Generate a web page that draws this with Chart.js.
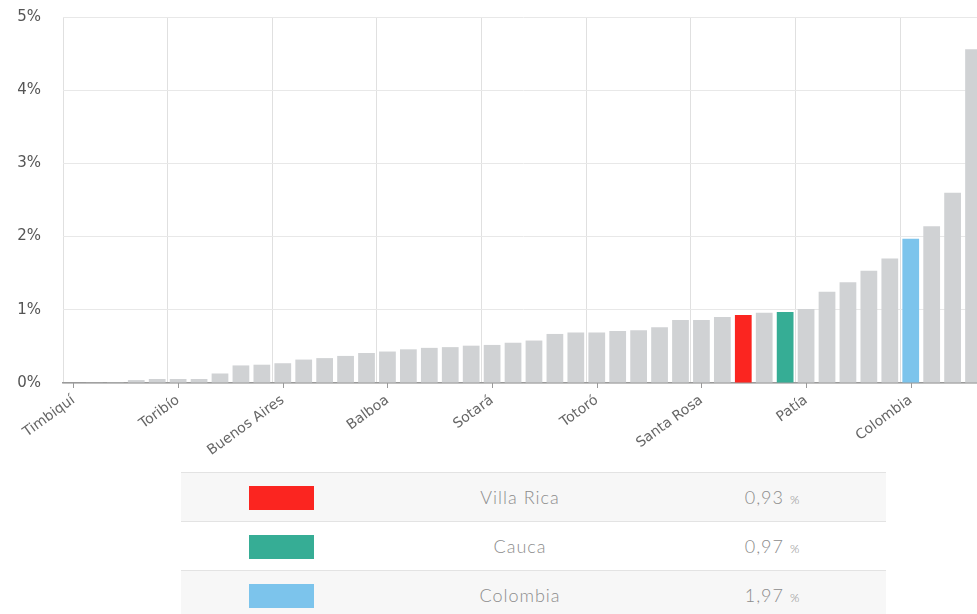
<!DOCTYPE html>
<html>
<head>
<meta charset="utf-8">
<script src="https://cdn.jsdelivr.net/npm/chart.js@4"></script>
<style>
  html, body { margin: 0; padding: 0; overflow: hidden; background: #fff; }
  #chart { position: absolute; left: 0; top: 0; }
  #legendTable {
    position: absolute; left: 181px; top: 472px; width: 705px;
    border-collapse: collapse; font-family: Lato, "Open Sans", sans-serif;
    font-weight: 300; color: #8c8c8c; font-size: 18px; letter-spacing: 1px;
  }
  #legendTable td { height: 48px; border-top: 1px solid #e3e3e3; text-align: center; padding: 0; }
  #legendTable tr:nth-child(odd) td { background: #f7f7f7; }
  .sw { display: inline-block; width: 65px; height: 24px; vertical-align: middle; }
  .pct { font-size: 12px; margin-left: 6px; }
</style>
</head>
<body>
<canvas id="chart" width="984" height="460"></canvas>
<table id="legendTable"></table>
<script>
// categories (only every 5th name is shown on the axis)
const labels = [
  'Timbiquí', '', '', '', '', 'Toribío', '', '', '', '',
  'Buenos Aires', '', '', '', '', 'Balboa', '', '', '', '',
  'Sotará', '', '', '', '', 'Totoró', '', '', '', '',
  'Santa Rosa', '', 'Villa Rica', '', 'Cauca', 'Patía', '', '', '', '',
  'Colombia', '', '', ''
];
const values = [
  0, 0.005, 0.01, 0.04, 0.055, 0.055, 0.055, 0.13, 0.24, 0.25,
  0.27, 0.32, 0.34, 0.37, 0.41, 0.43, 0.46, 0.48, 0.49, 0.51,
  0.52, 0.55, 0.58, 0.67, 0.69, 0.69, 0.71, 0.72, 0.76, 0.86,
  0.86, 0.90, 0.93, 0.96, 0.97, 1.01, 1.245, 1.375, 1.535, 1.70,
  1.97, 2.14, 2.60, 4.56
];
const highlightIndex = [32, 34, 40];
const highlightNames = ['Villa Rica', 'Cauca', 'Colombia'];
const highlightValues = ['0,93', '0,97', '1,97'];
const highlightColors = ['#fb2520', '#36ad95', '#7cc4ec'];
const yTicks = [0, 1, 2, 3, 4, 5];

const barColors = values.map((v, i) => {
  const k = highlightIndex.indexOf(i);
  return k >= 0 ? highlightColors[k] : '#d0d2d4';
});

// small tick marks under the axis at the named categories
const centerTicks = {
  id: 'centerTicks',
  afterDraw(chart) {
    const x = chart.scales.x, ctx = chart.ctx, y0 = chart.chartArea.bottom;
    ctx.save();
    ctx.strokeStyle = '#9a9a9a';
    ctx.lineWidth = 1;
    labels.forEach((l, i) => {
      if (i % 5 !== 0) return;
      const px = Math.round(x.getPixelForValue(i)) + 0.5;
      ctx.beginPath();
      ctx.moveTo(px, y0);
      ctx.lineTo(px, y0 + 5);
      ctx.stroke();
    });
    ctx.restore();
  }
};

new Chart(document.getElementById('chart'), {
  type: 'bar',
  data: {
    labels: labels,
    datasets: [{
      data: values,
      backgroundColor: barColors,
      barPercentage: 1,
      categoryPercentage: 0.8
    }]
  },
  options: {
    responsive: false,
    animation: false,
    layout: { padding: { top: 17, left: 0, right: 0, bottom: 0 } },
    plugins: { legend: { display: false }, tooltip: { enabled: false } },
    scales: {
      x: {
        afterFit(scale) {
          scale.height = 77;
          scale.paddingLeft = 0;
          scale.paddingRight = 0;
        },
        grid: {
          offset: true,
          drawTicks: false,
          color: ctx => (ctx.index % 5 === 0 ? '#e0e0e0' : 'rgba(0,0,0,0)')
        },
        border: { color: '#9a9a9a', width: 1.5 },
        ticks: {
          autoSkip: false,
          minRotation: 36,
          maxRotation: 36,
          padding: 9,
          color: '#666',
          font: { family: 'DejaVu Sans', size: 14 },
          callback: (v, i) => (i % 5 === 0 ? labels[i] : '')
        }
      },
      y: {
        min: 0,
        max: 5,
        afterFit(scale) {
          scale.width = 63;
          scale.paddingTop = 0;
          scale.paddingBottom = 0;
        },
        afterBuildTicks(scale) { scale.ticks = yTicks.map(v => ({ value: v })); },
        grid: { color: '#e8e8e8', drawTicks: false },
        border: { display: false },
        ticks: {
          padding: 22,
          color: '#555',
          font: { family: 'DejaVu Sans', size: 15 },
          callback: v => v + '%'
        }
      }
    }
  },
  plugins: [centerTicks]
});

// legend table below the chart
const table = document.getElementById('legendTable');
highlightNames.forEach((name, k) => {
  const tr = document.createElement('tr');
  tr.innerHTML =
    '<td style="width:200px"><span class="sw" style="background:' + highlightColors[k] + '"></span></td>' +
    '<td style="width:278px">' + name + '</td>' +
    '<td style="width:227px">' + highlightValues[k] + '<span class="pct">%</span></td>';
  table.appendChild(tr);
});
</script>
</body>
</html>
